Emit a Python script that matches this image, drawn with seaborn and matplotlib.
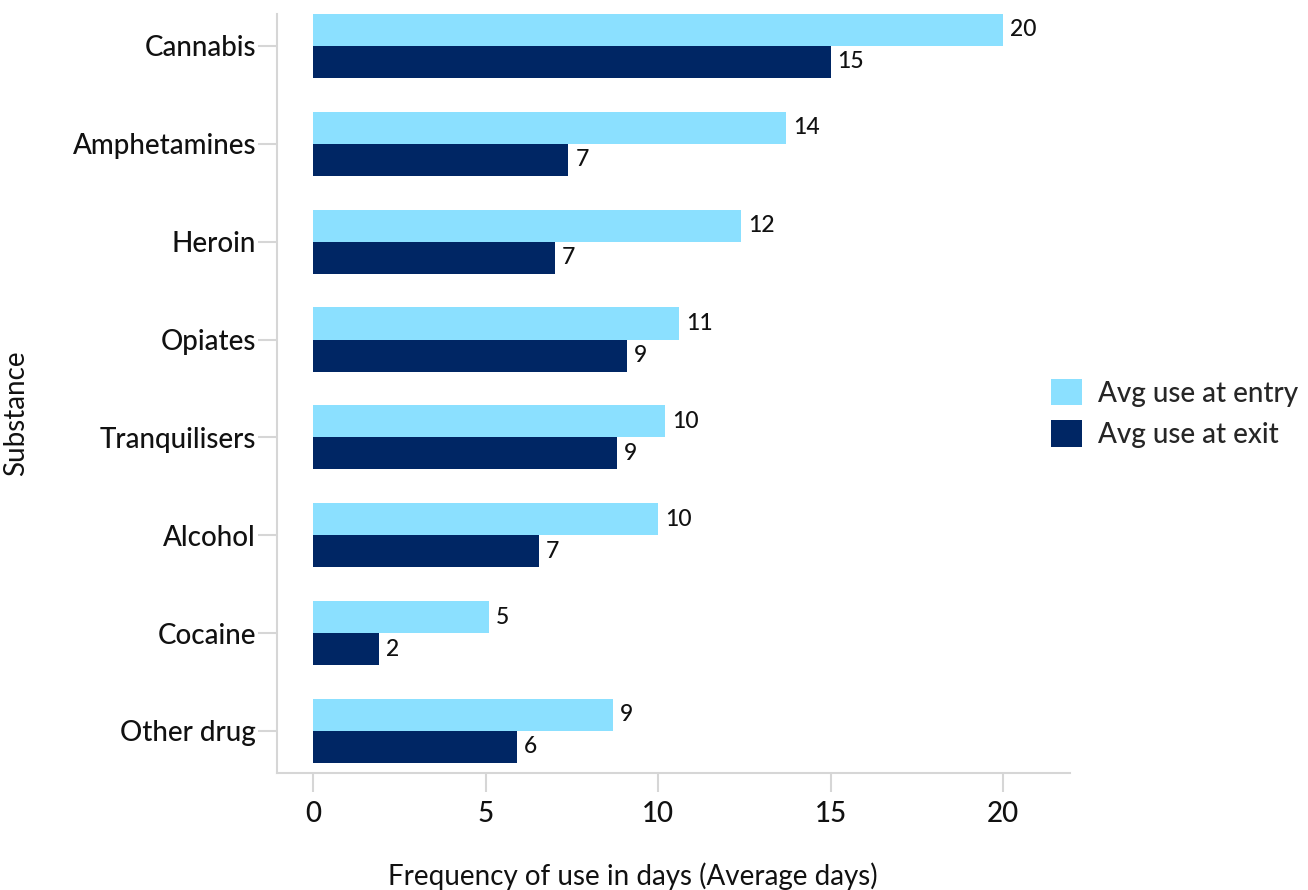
import matplotlib
matplotlib.use("Agg")
import matplotlib.pyplot as plt
import seaborn as sns
import pandas as pd

substances = ["Cannabis", "Amphetamines", "Heroin", "Opiates", "Tranquilisers",
              "Alcohol", "Cocaine", "Other drug"]
entry_days = [20.0, 13.7, 12.4, 10.6, 10.2, 10.0, 5.1, 8.7]
exit_days = [15.0, 7.4, 7.0, 9.1, 8.8, 6.55, 1.9, 5.9]
series_names = ["Avg use at entry", "Avg use at exit"]
x_ticks = [0, 5, 10, 15, 20]

df = pd.DataFrame({
    "Substance": substances * 2,
    "Days": entry_days + exit_days,
    "Series": [series_names[0]] * len(substances) + [series_names[1]] * len(substances),
})

sns.set_theme(style="white")
plt.rcParams["font.family"] = ["Lato", "DejaVu Sans"]
plt.rcParams["font.weight"] = "medium"

text_color = "#111111"
grey = "#d6d6d6"

fig = plt.figure(figsize=(13.08, 8.9), dpi=100)
ax = fig.add_axes([0.2118, 0.1315, 0.6065, 0.8528])

palette = {series_names[0]: "#8BE0FF", series_names[1]: "#002664"}
sns.barplot(data=df, y="Substance", x="Days", hue="Series", orient="h",
            palette=palette, width=0.655, saturation=1, linewidth=0,
            ax=ax, legend=True)

for container in ax.containers:
    ax.bar_label(container,
                 labels=[f"{int(v + 0.5)}" for v in container.datavalues],
                 padding=5, fontsize=16.5, color=text_color)

ax.set_xlim(-1.05, 21.95)
ax.set_ylim(7.43, -0.327)
ax.set_xticks(x_ticks)

for side in ["top", "right"]:
    ax.spines[side].set_visible(False)
for side in ["left", "bottom"]:
    ax.spines[side].set_color(grey)
    ax.spines[side].set_linewidth(1.5)
ax.tick_params(axis="both", which="major", bottom=True, left=True,
               length=13.5, width=1.5, color=grey,
               labelsize=20, labelcolor=text_color)
ax.tick_params(axis="y", pad=1.5)
ax.tick_params(axis="x", pad=7)

ax.set_xlabel("Frequency of use in days (Average days)", fontsize=20,
              color=text_color)
ax.xaxis.set_label_coords(0.449, -0.118)
ax.set_ylabel("Substance", fontsize=20, color=text_color)
ax.yaxis.set_label_coords(-0.312, 0.474)

handles, labels = ax.get_legend_handles_labels()
ax.legend(handles, labels, loc="center left",
          bbox_to_anchor=(1051 / 1308, 1 - 413.5 / 890),
          bbox_transform=fig.transFigure, frameon=False, fontsize=20,
          handlelength=1.1, handleheight=1.1, handletextpad=0.58,
          labelspacing=0.5, borderaxespad=0, borderpad=0)

fig.savefig("out.png", dpi=100)
